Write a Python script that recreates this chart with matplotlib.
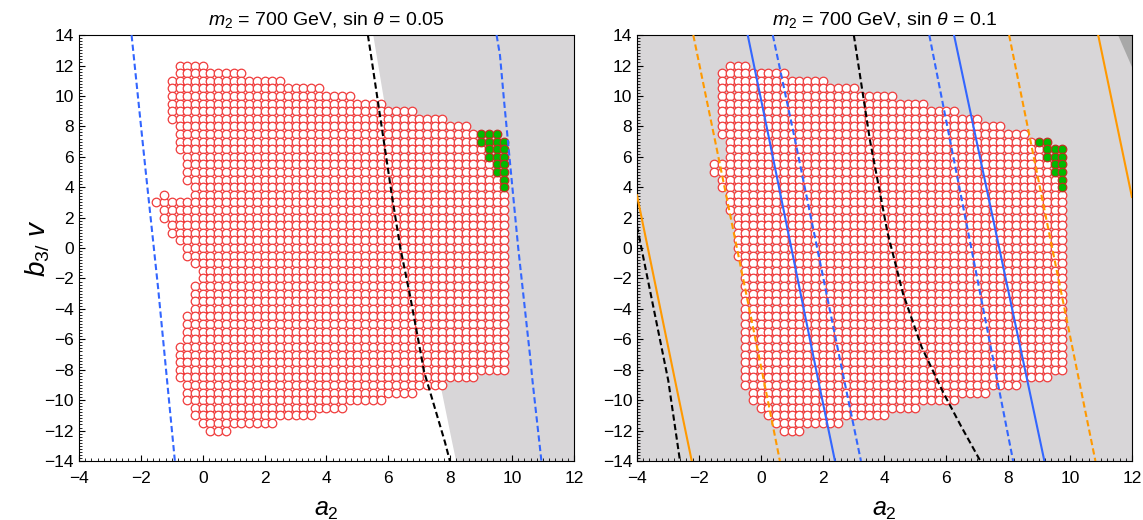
import numpy as np
import matplotlib.pyplot as plt
from matplotlib.ticker import MultipleLocator

plt.rcParams['font.family'] = ['Liberation Sans', 'DejaVu Sans']
plt.rcParams['mathtext.fontset'] = 'custom'
plt.rcParams['mathtext.it'] = 'Liberation Sans:italic'
plt.rcParams['mathtext.rm'] = 'Liberation Sans'

# ---- scan points: rows of b3/v, with first and last a2 of each row (step 0.25)
rows_b = [12, 11.5, 11, 10.5, 10, 9.5, 9, 8.5, 8, 7.5, 7, 6.5, 6, 5.5, 5, 4.5, 4, 3.5,
          3, 2.5, 2, 1.5, 1, 0.5, 0, -0.5, -1, -1.5, -2, -2.5, -3, -3.5, -4, -4.5, -5,
          -5.5, -6, -6.5, -7, -7.5, -8, -8.5, -9, -9.5, -10, -10.5, -11, -11.5, -12]

left_start = [-0.75, -0.75, -1.0, -1.0, -1.0, -1.0, -1.0, -1.0, -0.75, -0.75, -0.75, -0.75,
              -0.5, -0.5, -0.5, -0.5, -0.25, -0.25, -1.5, -1.25, -1.25, -1.0, -1.0, -0.75,
              -0.5, -0.5, -0.25, 0.0, 0.0, -0.25, -0.25, -0.25, -0.25, -0.5, -0.5, -0.5,
              -0.5, -0.75, -0.75, -0.75, -0.75, -0.75, -0.5, -0.5, -0.5, -0.25, -0.25, 0.0, 0.25]
left_end = [0.0, 1.25, 2.5, 3.75, 4.75, 5.75, 6.75, 7.75, 8.5, 9.5, 9.75, 9.75,
            9.75, 9.75, 9.75, 9.75, 9.75, 9.75, 9.75, 9.75, 9.75, 9.75, 9.75, 9.75,
            9.75, 9.75, 9.75, 9.75, 9.75, 9.75, 9.75, 9.75, 9.75, 9.75, 9.75, 9.75,
            9.75, 9.75, 9.75, 9.75, 9.75, 8.75, 7.75, 6.75, 5.75, 4.5, 3.5, 2.25, 0.75]
left_lone_a = [-1.25]
left_lone_b = [3.5]
left_green_a = [9.0, 9.25, 9.5, 9.0, 9.25, 9.5, 9.75, 9.25, 9.5, 9.75, 9.25, 9.5, 9.75,
                9.5, 9.75, 9.5, 9.75, 9.75, 9.75]
left_green_b = [7.5, 7.5, 7.5, 7, 7, 7, 7, 6.5, 6.5, 6.5, 6, 6, 6,
                5.5, 5.5, 5, 5, 4.5, 4]

right_start = [-1.0, -1.25, -1.25, -1.25, -1.25, -1.25, -1.25, -1.25, -1.25, -1.25, -1.0, -1.0,
               -1.0, -1.5, -1.5, -1.25, -1.25, -1.0, -1.0, -1.0, -0.75, -0.75, -0.75, -0.75,
               -0.75, -0.75, -0.5, -0.5, -0.5, -0.5, -0.5, -0.5, -0.5, -0.5, -0.5, -0.5,
               -0.5, -0.5, -0.5, -0.5, -0.5, -0.5, -0.5, -0.25, -0.25, 0.0, 0.25, 0.5, 0.75]
right_end = [-0.5, 0.75, 2.0, 3.0, 4.25, 5.25, 6.25, 7.0, 7.75, 8.5, 9.25, 9.75,
             9.75, 9.75, 9.75, 9.75, 9.75, 9.75, 9.75, 9.75, 9.75, 9.75, 9.75, 9.75,
             9.75, 9.75, 9.75, 9.75, 9.75, 9.75, 9.75, 9.75, 9.75, 9.75, 9.75, 9.75,
             9.75, 9.75, 9.75, 9.75, 9.75, 9.25, 8.25, 7.25, 6.25, 5.0, 4.0, 2.5, 1.25]
right_lone_a = []
right_lone_b = []
right_green_a = [9.0, 9.25, 9.25, 9.5, 9.75, 9.25, 9.5, 9.75, 9.5, 9.75, 9.5, 9.75, 9.75, 9.75]
right_green_b = [7, 7, 6.5, 6.5, 6.5, 6, 6, 6, 5.5, 5.5, 5, 5, 4.5, 4]

# ---- constraint curves (a2 along b3/v)
l_blue_a = [-2.3, -1.87, -1.44, -0.9]
l_blue_b = [14, 5.56, -2.67, -14]
l_black_a = [5.34, 5.44, 6.14, 6.39, 6.70, 7.16, 7.83, 7.99]
l_black_b = [14, 12.68, 3.14, 0, -3.1, -8.15, -12.75, -14]
l_blue2_a = [9.5, 9.61, 9.74, 10.2, 10.58, 10.66, 10.95]
l_blue2_b = [14, 12.68, 9.72, 0, -7.05, -8.7, -14]
l_gray_a = [5.5, 5.84, 6.4, 6.75, 7.1, 7.5, 7.72, 8.05, 8.18]
l_gray_b = [14, 9.83, 3, 0, -3, -7, -9.47, -12.75, -14]

r_lines = [
    ([-4, -2.77, -2.23], [3.47, -8.7, -14], '#ff9900', '-'),
    ([-4, -2.99, -2.61], [1.43, -8.7, -14], 'black', '--'),
    ([-2.18, -1.48, 0.10, 0.62], [14, 7.1, -8.7, -14], '#ff9900', '--'),
    ([-0.42, 0.28, 1.86, 2.40], [14, 7.1, -8.7, -14], '#3366ff', '-'),
    ([0.39, 1.11, 2.70, 3.24], [14, 7.1, -8.7, -14], '#3366ff', '--'),
    ([3.01, 3.53, 4.1, 4.6, 5.2, 5.9, 6.5, 7.1],
     [14, 7.1, 1, -3, -6.5, -9.5, -11.8, -14], 'black', '--'),
    ([5.45, 6.63, 8.16], [14, 1.83, -14], '#3366ff', '--'),
    ([6.25, 7.52, 9.17], [14, 1.83, -14], '#3366ff', '-'),
    ([8.03, 9.24, 10.82], [14, 1.83, -14], '#ff9900', '--'),
    ([10.91, 12.0], [14, 3.36], '#ff9900', '-'),
]
r_dark_a = [11.56, 12, 12]
r_dark_b = [14, 14, 11.9]

light_gray = '#d8d6d8'
dark_gray = '#a8a8a8'
red = '#f03c3c'


def grid_points(rows, starts, ends, lone_a, lone_b):
    xs, ys = [], []
    for b, s, e in zip(rows, starts, ends):
        n = int(round((e - s) / 0.25)) + 1
        for i in range(n):
            xs.append(s + 0.25 * i)
            ys.append(b)
    xs += lone_a
    ys += lone_b
    return np.array(xs), np.array(ys)


def draw_points(ax, starts, ends, lone_a, lone_b, ga, gb):
    xs, ys = grid_points(rows_b, starts, ends, lone_a, lone_b)
    green = set(zip(ga, gb))
    keep = np.array([(x, y) not in green for x, y in zip(xs, ys)])
    ax.scatter(xs[keep], ys[keep], s=38, facecolor='white', edgecolor=red,
               linewidth=0.9, zorder=3)
    ax.scatter(ga, gb, s=38, facecolor='#00bb00', edgecolor='#c03020',
               linewidth=0.9, zorder=3)


def style(ax, title):
    ax.set_xlim(-4, 12)
    ax.set_ylim(-14, 14)
    ax.xaxis.set_major_locator(MultipleLocator(2))
    ax.yaxis.set_major_locator(MultipleLocator(2))
    ax.xaxis.set_minor_locator(MultipleLocator(0.2))
    ax.yaxis.set_minor_locator(MultipleLocator(0.2))
    ax.tick_params(which='both', direction='in', labelsize=12.5)
    ax.tick_params(axis='x', pad=7)
    ax.tick_params(which='major', length=4, width=0.8)
    ax.tick_params(which='minor', length=2, width=0.6)
    ax.set_title(title, fontsize=14, pad=7)
    ax.set_xlabel('$a_2$', fontsize=18, labelpad=9)


fig = plt.figure(figsize=(11.43, 5.2), dpi=100)
ax1 = fig.add_axes([0.0691, 0.1135, 0.433, 0.819])
ax2 = fig.add_axes([0.5573, 0.1135, 0.433, 0.819])

# left panel
ax1.fill_betweenx(l_gray_b, l_gray_a, 12, color=light_gray, lw=0, zorder=0)
draw_points(ax1, left_start, left_end, left_lone_a, left_lone_b,
            left_green_a, left_green_b)
ax1.plot(l_blue_a, l_blue_b, color='#3366ff', ls='--', dashes=(3, 1.6), lw=1.5, zorder=4)
ax1.plot(l_black_a, l_black_b, color='black', ls='--', dashes=(3, 1.6), lw=1.5, zorder=4)
ax1.plot(l_blue2_a, l_blue2_b, color='#3366ff', ls='--', dashes=(3, 1.6), lw=1.5, zorder=4)
style(ax1, r'$m_2$ = 700 GeV, sin $\theta$ = 0.05')
ax1.set_ylabel(r'$b_{3/}\ v$', fontsize=20)
ax1.yaxis.set_label_coords(-0.055, 0.5)

# right panel
ax2.set_facecolor(light_gray)
ax2.fill(r_dark_a, r_dark_b, color=dark_gray, lw=0, zorder=0)
draw_points(ax2, right_start, right_end, right_lone_a, right_lone_b,
            right_green_a, right_green_b)
for xa, yb, col, ls in r_lines:
    if ls == '--':
        ax2.plot(xa, yb, color=col, ls='--', dashes=(3, 1.6), lw=1.5, zorder=4)
    else:
        ax2.plot(xa, yb, color=col, lw=1.5, zorder=4)
style(ax2, r'$m_2$ = 700 GeV, sin $\theta$ = 0.1')

fig.savefig('out.png', dpi=100)
